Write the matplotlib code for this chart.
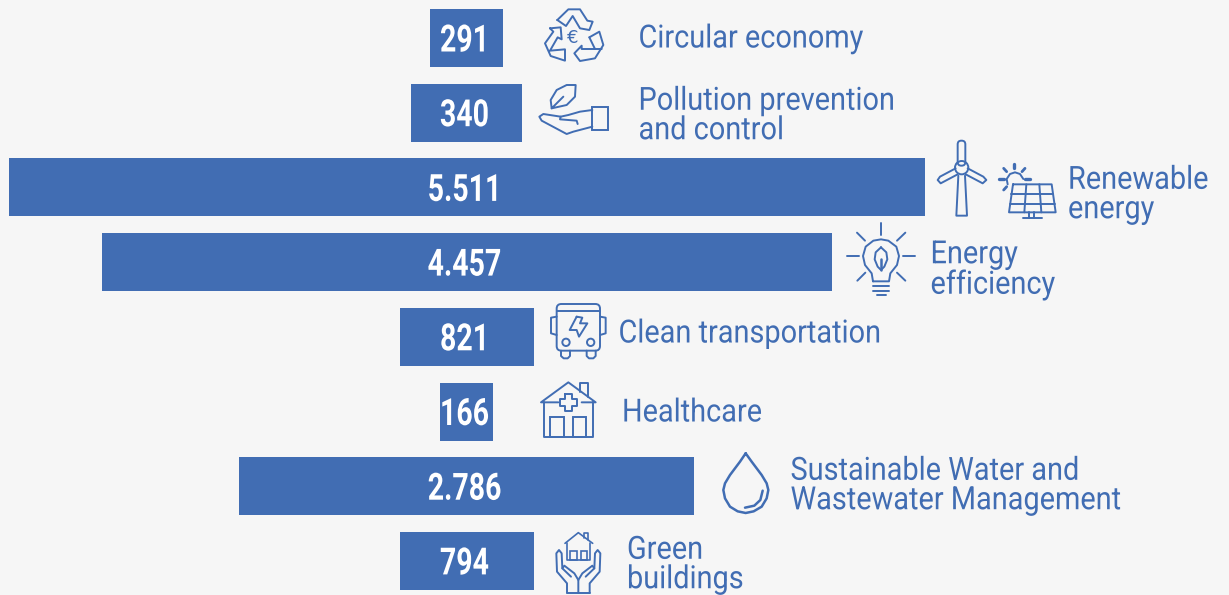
import matplotlib
matplotlib.use("Agg")
import matplotlib.pyplot as plt
from matplotlib.patches import Circle, FancyBboxPatch, Rectangle
from matplotlib.patheffects import AbstractPathEffect
from matplotlib.transforms import Affine2D

BLUE = "#416db3"
BG = "#f6f6f6"

# values as printed on the bars
bar_labels = ["291", "340", "5.511", "4.457", "821", "166", "2.786", "794"]
# bar lengths as drawn in the picture (the small ones are not to scale with the labels)
bar_lengths = [73, 111, 916, 730, 134, 53, 455, 134]
categories = ["Circular economy", "Pollution prevention\nand control", "Renewable\nenergy",
              "Energy\nefficiency", "Clean transportation", "Healthcare",
              "Sustainable Water and\nWastewater Management", "Green\nbuildings"]

# layout of the category labels
label_x = [638.5, 638.5, 1068, 930.5, 618.5, 622, 790.5, 627]
label_y = [39, 116, 195, 270, 334, 413, 486, 565]

plt.rcParams["font.family"] = ["Roboto", "DejaVu Sans"]


# no condensed font installed, so squeeze the glyphs sideways around the anchor
class Squeeze(AbstractPathEffect):
    def __init__(self, anchor, factor):
        super().__init__()
        self.anchor = anchor
        self.factor = factor

    def draw_path(self, renderer, gc, tpath, affine, rgbFace=None):
        squeeze = Affine2D().translate(-self.anchor, 0).scale(self.factor, 1).translate(self.anchor, 0)
        renderer.draw_path(gc, tpath, affine + squeeze, rgbFace)


fig = plt.figure(figsize=(12.29, 5.95), dpi=100, facecolor=BG)
ax = fig.add_axes([0, 0, 1, 1])
ax.set_xlim(0, 1229)
ax.set_ylim(595, 0)
ax.axis("off")

centers = [38 + 74.7 * i for i in range(len(bar_lengths))]
lefts = [466.5 - w / 2 for w in bar_lengths]
ax.barh(centers, bar_lengths, left=lefts, height=58, color=BLUE)

for y, lab in zip(centers, bar_labels):
    ax.text(464.5, y + 3, lab, color="white", fontsize=27, fontweight="bold", ha="center", va="center",
            path_effects=[Squeeze(464.5, 0.76)])

for cat, lx, ly in zip(categories, label_x, label_y):
    ax.text(lx, ly, cat, color=BLUE, fontsize=23, ha="left", va="center", linespacing=1.02,
            path_effects=[Squeeze(lx, 0.905)])


def line(x0, y0, pts, lw=1.4):
    xs = [x0 + p[0] / 3 for p in pts]
    ys = [y0 + p[1] / 3 for p in pts]
    ax.plot(xs, ys, color=BLUE, lw=lw, solid_capstyle="round", solid_joinstyle="round")


def circle(x0, y0, cx, cy, r, lw=1.4):
    ax.add_patch(Circle((x0 + cx / 3, y0 + cy / 3), r / 3, fill=False, ec=BLUE, lw=lw))


def box(x0, y0, x, y, w, h, lw=1.4):
    ax.add_patch(Rectangle((x0 + x / 3, y0 + y / 3), w / 3, h / 3, fill=False, ec=BLUE, lw=lw))


def rbox(x0, y0, x, y, w, h, r, lw=1.4):
    ax.add_patch(FancyBboxPatch((x0 + x / 3, y0 + y / 3), w / 3, h / 3, boxstyle="round,pad=0,rounding_size=%f" % (r / 3),
                                fill=False, ec=BLUE, lw=lw))


# recycling
x0, y0 = 530, 0
line(x0, y0, [(82, 60), (108, 78), (128, 48), (150, 85), (178, 90), (188, 65), (172, 62), (150, 28), (115, 28), (82, 60)])
line(x0, y0, [(178, 112), (208, 95), (220, 135), (195, 175), (150, 183), (133, 160), (155, 137), (155, 147), (215, 147)])
line(x0, y0, [(178, 112), (195, 147)])
line(x0, y0, [(60, 85), (92, 82), (95, 118), (83, 112), (60, 152), (105, 148), (105, 182), (62, 168), (45, 130), (70, 95), (60, 85)])
ax.text(x0 + 128 / 3, y0 + 113 / 3, "€", color=BLUE, fontsize=13, ha="center", va="center", family="DejaVu Sans")

# hand with leaf
line(x0, y0, [(65, 325), (62, 300), (80, 270), (110, 255), (137, 255), (135, 290), (110, 315), (65, 325), (100, 290)])
line(x0, y0, [(187, 330), (150, 335), (115, 345), (92, 350), (90, 358), (140, 362), (143, 372)])
line(x0, y0, [(92, 350), (40, 342), (28, 350), (35, 362), (110, 402), (130, 395), (187, 380)])
box(x0, y0, 187, 322, 46, 68)

# wind turbine
x0, y0 = 925, 135
rbox(x0, y0, 98, 17, 23, 75, 11)
circle(x0, y0, 110, 98, 20)
line(x0, y0, [(92, 100), (45, 125), (38, 135), (47, 145), (98, 118)])
line(x0, y0, [(128, 100), (175, 125), (184, 135), (173, 145), (122, 118)])
line(x0, y0, [(100, 122), (94, 242), (126, 242), (120, 122)])

# solar panel and sun
line(x0, y0, [(248, 148), (245, 132), (255, 117), (270, 112), (285, 117), (295, 132)])
line(x0, y0, [(268, 88), (268, 100)], lw=2.4)
line(x0, y0, [(236, 100), (245, 110)], lw=2)
line(x0, y0, [(300, 100), (291, 110)], lw=2)
line(x0, y0, [(223, 133), (236, 133)], lw=2.4)
line(x0, y0, [(301, 133), (314, 133)], lw=2.4)
line(x0, y0, [(236, 165), (245, 155)], lw=2)
line(x0, y0, [(264, 148), (380, 148), (392, 232), (252, 232), (264, 148)])
line(x0, y0, [(259, 176), (384, 176)])
line(x0, y0, [(255, 206), (389, 206)])
line(x0, y0, [(304, 148), (298, 232)])
line(x0, y0, [(343, 148), (349, 232)])
line(x0, y0, [(312, 232), (312, 248)])
line(x0, y0, [(328, 232), (328, 248)])
line(x0, y0, [(293, 248), (350, 248)])

# light bulb
x0, y0 = 835, 220
line(x0, y0, [(138, 8), (138, 44)])
line(x0, y0, [(66, 38), (90, 62)])
line(x0, y0, [(211, 38), (186, 62)])
line(x0, y0, [(37, 109), (72, 109)])
line(x0, y0, [(205, 109), (240, 109)])
line(x0, y0, [(67, 182), (91, 158)])
line(x0, y0, [(211, 182), (186, 158)])
line(x0, y0, [(114, 184), (110, 160), (90, 135), (84, 108), (92, 80), (115, 62), (138, 58), (160, 62), (184, 80),
              (192, 108), (186, 135), (166, 160), (162, 184), (114, 184)])
line(x0, y0, [(138, 82), (122, 97), (119, 118), (128, 140), (138, 150), (148, 140), (157, 118), (154, 97), (138, 82)])
line(x0, y0, [(138, 118), (138, 150)], lw=1.8)
line(x0, y0, [(114, 198), (162, 198)])
line(x0, y0, [(114, 212), (162, 212)])
line(x0, y0, [(126, 226), (152, 226)])

# bus
x0, y0 = 535, 295
rbox(x0, y0, 65, 27, 130, 140, 14)
line(x0, y0, [(65, 48), (195, 48)])
line(x0, y0, [(65, 65), (48, 68), (48, 115), (65, 120)])
line(x0, y0, [(195, 65), (212, 68), (212, 115), (195, 120)])
line(x0, y0, [(125, 65), (104, 105), (125, 105), (132, 125), (157, 85), (135, 85), (142, 68), (125, 65)])
circle(x0, y0, 93, 142, 11)
circle(x0, y0, 167, 142, 11)
line(x0, y0, [(78, 167), (78, 183), (86, 190), (98, 190), (105, 183), (105, 167)])
line(x0, y0, [(155, 167), (155, 183), (162, 190), (175, 190), (182, 183), (182, 167)])

# house with cross
line(x0, y0, [(70, 322), (18, 322), (100, 262), (182, 322), (140, 322)])
line(x0, y0, [(135, 290), (135, 264), (158, 264), (158, 305)])
line(x0, y0, [(27, 322), (27, 425), (173, 425), (173, 322)])
box(x0, y0, 46, 365, 40, 60)
box(x0, y0, 114, 365, 40, 60)
line(x0, y0, [(90, 298), (110, 298), (110, 312), (125, 312), (125, 332), (110, 332), (110, 348), (90, 348), (90, 332),
              (75, 332), (75, 312), (90, 312), (90, 298)])

# hands with house
x0, y0 = 545, 525
line(x0, y0, [(60, 55), (100, 23), (143, 55)], lw=1.2)
line(x0, y0, [(117, 38), (117, 25), (130, 25), (130, 45)], lw=1.2)
line(x0, y0, [(65, 55), (65, 106), (135, 106), (135, 55)], lw=1.2)
box(x0, y0, 75, 77, 20, 29, lw=1.2)
box(x0, y0, 107, 77, 20, 29, lw=1.2)
line(x0, y0, [(100, 203), (100, 165), (88, 145), (58, 122), (52, 130), (78, 155)])
line(x0, y0, [(100, 165), (112, 145), (142, 122), (148, 130), (122, 155)])
line(x0, y0, [(66, 203), (66, 175), (36, 140), (34, 85), (42, 75), (50, 85), (52, 130)])
line(x0, y0, [(134, 203), (134, 175), (164, 140), (166, 85), (158, 75), (150, 85), (148, 130)])
line(x0, y0, [(66, 203), (100, 203), (134, 203)])

# water drop
x0, y0 = 715, 445
line(x0, y0, [(92, 25), (75, 50), (45, 90), (30, 115), (25, 135), (30, 160), (45, 185), (68, 199), (92, 204), (116, 199),
              (140, 185), (155, 160), (160, 135), (155, 115), (140, 90), (110, 50), (92, 25)], lw=1.8)
line(x0, y0, [(143, 137), (136, 165), (118, 182), (90, 188)], lw=1.8)

fig.savefig("out.png", dpi=100, facecolor=BG)
